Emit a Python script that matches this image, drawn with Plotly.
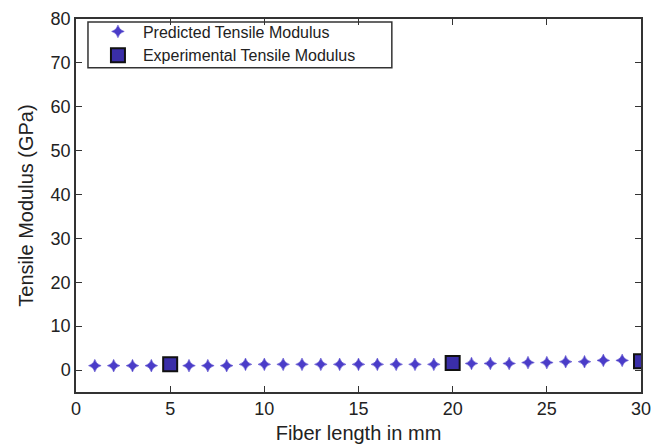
import plotly.graph_objects as go

pred_x = list(range(1, 31))
pred_y = [1.0, 1.0, 1.0, 1.0, 1.1, 1.0, 1.0, 1.0, 1.3, 1.3,
          1.3, 1.3, 1.3, 1.3, 1.3, 1.3, 1.3, 1.3, 1.3, 1.4,
          1.5, 1.5, 1.5, 1.7, 1.7, 1.9, 1.9, 2.2, 2.2, 2.3]
exp_x = [5, 20, 30]
exp_y = [1.3, 1.6, 2.0]

x_ticks = [0, 5, 10, 15, 20, 25, 30]
y_ticks = [0, 10, 20, 30, 40, 50, 60, 70, 80]

font = "Liberation Sans, Arial, Helvetica, sans-serif"

fig = go.Figure()
fig.add_trace(go.Scatter(
    x=pred_x, y=pred_y, mode="markers", name="Predicted Tensile Modulus",
    marker=dict(symbol="star-diamond", size=9, color="#4a3cc8",
                line=dict(width=0.5, color="#4a3cc8")),
))
fig.add_trace(go.Scatter(
    x=exp_x, y=exp_y, mode="markers", name="Experimental Tensile Modulus",
    marker=dict(symbol="square", size=14, color="#3a2ea8",
                line=dict(width=2, color="#111111")),
))

axis_common = dict(
    showgrid=False, zeroline=False, showline=True, linecolor="#333333",
    linewidth=1.5, mirror="allticks", ticks="inside", ticklen=6,
    tickcolor="#333333", automargin=False, ticklabeloverflow="allow",
    tickfont=dict(size=18, color="#222222", family=font),
)

# legend frame (plot area: top at 11, bottom at 384 in figure px -> height 373)
fig.add_shape(type="rect", xref="paper", yref="paper",
              x0=0.0212, x1=0.559, y0=0.869, y1=0.992,
              line=dict(color="#333333", width=1.5), fillcolor="rgba(0,0,0,0)",
              layer="above")

fig.update_layout(
    width=668, height=448,
    margin=dict(l=68, r=35, t=11, b=64, autoexpand=False),
    paper_bgcolor="white", plot_bgcolor="white",
    font=dict(family=font, color="#222222"),
    showlegend=True,
    legend=dict(
        x=0.030, y=1.012, xanchor="left", yanchor="top",
        bgcolor="rgba(0,0,0,0)", borderwidth=0,
        font=dict(size=16, family=font, color="#222222"),
        tracegroupgap=2, itemwidth=40,
    ),
    xaxis=dict(range=[0, 30], tickvals=x_ticks,
               title=dict(text="Fiber length in mm", font=dict(size=20, family=font),
                          standoff=8),
               **axis_common),
    yaxis=dict(range=[-5, 80], tickvals=y_ticks,
               title=dict(text="Tensile Modulus (GPa)", font=dict(size=20, family=font),
                          standoff=12),
               **axis_common),
)

fig.write_html("out.html")
